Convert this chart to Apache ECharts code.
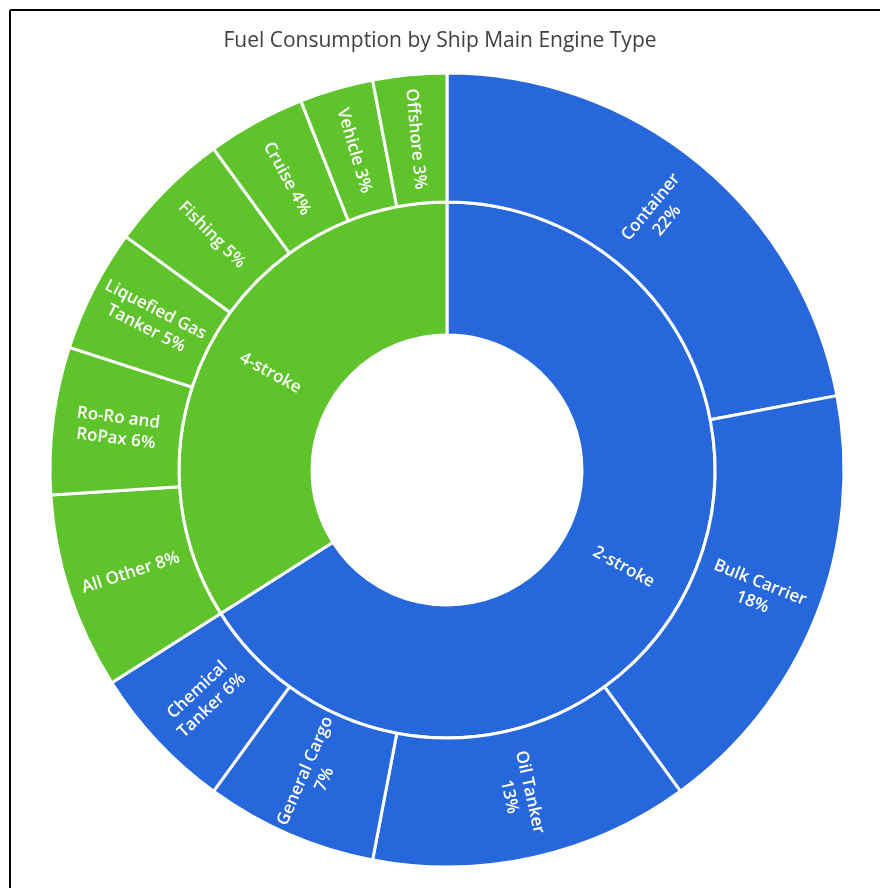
<!DOCTYPE html>
<html>
<head>
<meta charset="utf-8">
<script src="https://cdn.jsdelivr.net/npm/echarts@6/dist/echarts.min.js"></script>
<style>
  html, body { margin: 0; padding: 0; background: #fff; }
  #chart { width: 880px; height: 888px; }
</style>
</head>
<body>
<div id="chart"></div>
<script>
// engine groups (inner ring)
var engineTypes = ['2-stroke', '4-stroke'];
var engineColors = ['#2767DC', '#5FC42B'];

// ship types per engine group (outer ring), values in %
var twoStrokeShips = ['Container', 'Bulk Carrier', 'Oil Tanker', 'General Cargo', 'Chemical Tanker'];
var twoStrokeShare = [22, 18, 13, 7, 6];
var twoStrokeLabels = ['Container\n22%', 'Bulk Carrier\n18%', 'Oil Tanker\n13%', 'General Cargo\n7%', 'Chemical\nTanker 6%'];

var fourStrokeShips = ['All Other', 'Ro-Ro and RoPax', 'Liquefied Gas Tanker', 'Fishing', 'Cruise', 'Vehicle', 'Offshore'];
var fourStrokeShare = [8, 6, 5, 5, 4, 3, 3];
var fourStrokeLabels = ['All Other 8%', 'Ro-Ro and\nRoPax 6%', 'Liquefied Gas\nTanker 5%', 'Fishing 5%', 'Cruise 4%', 'Vehicle 3%', 'Offshore 3%'];

function children(names, values, labels, color) {
  return names.map(function (n, i) {
    return {
      name: n,
      value: values[i],
      itemStyle: { color: color },
      label: { formatter: labels[i] }
    };
  });
}

var groups = [
  children(twoStrokeShips, twoStrokeShare, twoStrokeLabels, engineColors[0]),
  children(fourStrokeShips, fourStrokeShare, fourStrokeLabels, engineColors[1])
];

var data = engineTypes.map(function (t, i) {
  return {
    name: t,
    itemStyle: { color: engineColors[i] },
    children: groups[i]
  };
});

var chart = echarts.init(document.getElementById('chart'));
chart.setOption({
  animation: false,
  title: {
    text: 'Fuel Consumption by Ship Main Engine Type',
    left: 'center',
    top: 26,
    textStyle: {
      fontFamily: 'Open Sans',
      fontSize: 21,
      fontWeight: 'normal',
      color: '#404040'
    }
  },
  graphic: [
    { type: 'line', shape: { x1: 10, y1: 10, x2: 880, y2: 10 }, style: { stroke: '#000', lineWidth: 2 } },
    { type: 'line', shape: { x1: 10, y1: 10, x2: 10, y2: 888 }, style: { stroke: '#000', lineWidth: 2 } }
  ],
  series: [{
    type: 'sunburst',
    center: [447, 470],
    sort: null,
    startAngle: 90,
    nodeClick: false,
    data: data,
    itemStyle: { borderColor: '#fff', borderWidth: 3 },
    emphasis: { disabled: true },
    label: {
      rotate: 'radial',
      color: '#fff',
      fontFamily: 'Open Sans',
      fontWeight: 600,
      fontSize: 17,
      lineHeight: 21,
      align: 'center'
    },
    levels: [
      {},
      { r0: 135, r: 268 },
      { r0: 268, r: 397 }
    ]
  }]
});
</script>
</body>
</html>
